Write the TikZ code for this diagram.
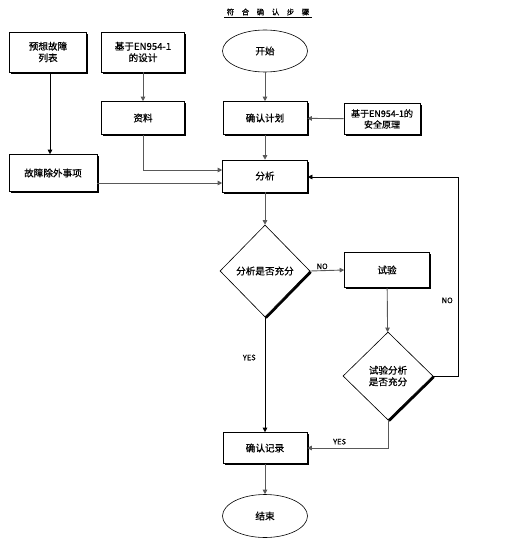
\documentclass[tikz,border=0pt]{standalone}
\usepackage{fontspec}
\setmainfont[FakeBold=0.6]{Noto Sans CJK SC}
\usetikzlibrary{arrows.meta,shapes.geometric,shadows}
\begin{document}
\begin{tikzpicture}[x=1pt,y=-1pt,
  every node/.style={font=\fontsize{9.6}{11.5}\selectfont, align=center, inner sep=1pt},
  shd/.style={general shadow={fill=black, shadow xshift=1.8pt, shadow yshift=-1.8pt}},
  box/.style={draw=black, line width=0.6pt, fill=white, shd, rectangle},
  oval/.style={draw=black, line width=0.6pt, fill=white, ellipse, inner sep=0pt},
  dia/.style={draw=black, line width=0.6pt, fill=white, shd, diamond, inner sep=0pt},
  garrow/.style={draw=black!65, line width=0.9pt, -{Triangle[length=4.5pt,width=4.5pt]}},
  barrow/.style={draw=black, line width=0.6pt, -{Triangle[length=4.5pt,width=4.5pt]}},
  lbl/.style={font=\fontsize{7.5}{8}\selectfont, inner sep=0pt}]
\useasboundingbox (0,0) rectangle (512,559);
% title
\node[font=\fontsize{7.5}{8}\selectfont, inner sep=0pt] (title) at (268,12) {符\hspace{7.5pt}合\hspace{7.5pt}确\hspace{7.5pt}认\hspace{7.5pt}步\hspace{7.5pt}骤};
\coordinate (ulA) at (224,17.5);
\coordinate (ulB) at (312,17.5);
\draw[line width=0.7pt] (ulA) -- (ulB);
% nodes
\node[box, minimum width=77pt, minimum height=40pt] (f1) at (48,52) {预想故障\\列表};
\node[box, minimum width=83pt, minimum height=40pt] (d1) at (143,52) {基于EN954-1\\的设计};
\node[box, minimum width=83pt, minimum height=33pt] (zl) at (143,118) {资料};
\node[box, minimum width=88pt, minimum height=37pt] (gz) at (53,173) {故障除外事项};
\node[oval, minimum width=85pt, minimum height=42pt] (ks) at (265,51) {开始};
\node[box, minimum width=84pt, minimum height=33pt] (jh) at (265,118) {确认计划};
\node[box, minimum width=76pt, minimum height=31pt, font=\fontsize{9}{11}\selectfont] (yl) at (382,119) {基于EN954-1的\\安全原理};
\node[box, minimum width=85pt, minimum height=32pt] (fx) at (265,176) {分析};
\node[dia, minimum width=90pt, minimum height=92pt] (dm1) at (265,271) {分析是否充分};
\node[box, minimum width=85pt, minimum height=35pt] (sy) at (387,270) {试验};
\node[dia, minimum width=90pt, minimum height=88pt] (dm2) at (388,376) {试验分析\\是否充分};
\node[box, minimum width=84pt, minimum height=31pt] (jl) at (265,448) {确认记录};
\node[oval, minimum width=85pt, minimum height=43pt] (js) at (265,516) {结束};
\coordinate (loopA) at (458,376);
\coordinate (loopB) at (458,177);
% connectors
\draw[garrow] (ks) -- (jh);
\draw[barrow] ([xshift=2pt]f1.south) -- ([xshift=-3pt]gz.north);
\draw[garrow] (d1) -- (zl);
\draw[garrow] (yl) -- (jh);
\draw[garrow] (jh) -- (fx);
\draw[garrow] (zl.south) |- ([yshift=6pt]fx.west);
\draw[garrow] ([yshift=-10pt]gz.east) -- ([yshift=-7pt]fx.west);
\draw[garrow] (fx) -- (dm1);
\draw[garrow] (dm1.east) -- node[lbl, above, pos=0.35, yshift=1pt] {NO} (sy.west);
\draw[garrow] (sy) -- (dm2);
\draw[barrow] (dm2.east) -- (loopA) -- node[lbl, left, pos=0.38, xshift=-5pt] {NO} (loopB) -- ([yshift=-1pt]fx.east);
\draw[barrow] (dm1.south) -- node[lbl, left, pos=0.35, xshift=-9pt] {YES} (jl.north);
\draw[garrow] (dm2.south) |- node[lbl, above, pos=0.8, yshift=3pt] {YES} (jl.east);
\draw[garrow] (jl) -- (js);
\end{tikzpicture}
\end{document}
